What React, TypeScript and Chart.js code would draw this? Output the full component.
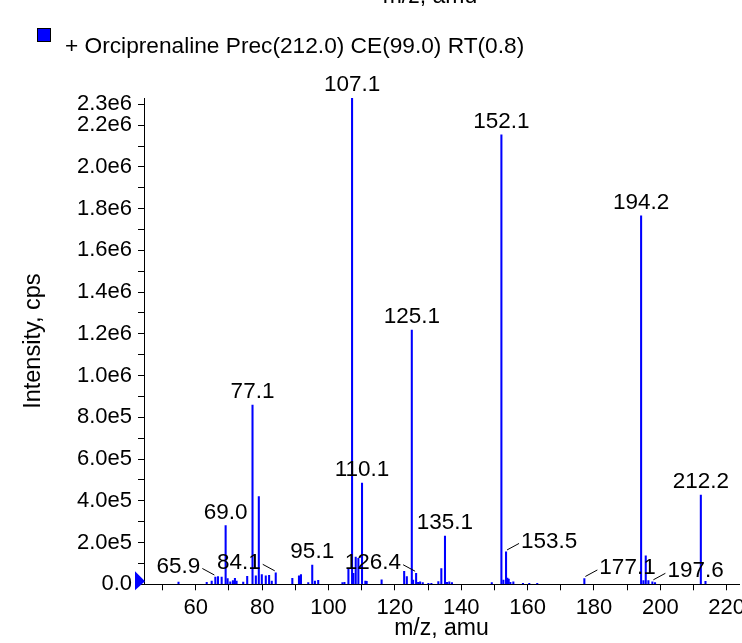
import React, { useEffect, useRef } from 'react';
import { Chart, registerables } from 'chart.js';

Chart.register(...registerables);

const FONT = '"Liberation Sans", Arial, Helvetica, sans-serif';

const seriesName = '+ Orciprenaline Prec(212.0) CE(99.0) RT(0.8)';
const xTitle = 'm/z, amu';
const yTitle = 'Intensity, cps';

const mzValues = [
  54.8, 63.3, 64.8, 65.9, 66.7, 67.8, 69.0, 69.6, 70.4, 71.2, 71.8, 72.3, 74.3, 75.5,
  77.1, 78.1, 79.0, 79.9, 81.1, 82.1, 82.9, 84.1, 89.1, 91.1, 91.7, 93.9, 95.1, 95.9,
  96.9, 104.2, 104.8, 106.0, 107.1, 107.5, 108.2, 109.0, 110.1, 111.1, 111.5, 116.0,
  122.8, 123.6, 125.1, 125.5, 126.4, 127.0, 127.6, 128.4, 130.1, 131.0, 133.1, 134.0,
  135.1, 135.7, 136.4, 137.2, 149.2, 152.1, 152.7, 153.5, 153.9, 154.3, 154.8, 155.7,
  158.6, 160.5, 162.9, 177.1, 194.2, 194.9, 195.6, 196.4, 197.6, 198.4, 212.2, 213.6,
];

const intensities = [
  11000, 10000, 16000, 35000, 37000, 35000, 281000, 28000, 12000, 18000, 29000, 16000, 11000, 38000,
  859000, 40000, 420000, 46000, 40000, 43000, 15000, 55000, 29000, 40000, 46000, 8000, 92000, 16000,
  19000, 8000, 10000, 74000, 2330000, 52000, 130000, 125000, 485000, 15000, 14000, 22000,
  62000, 37000, 1218000, 20000, 53000, 10000, 12000, 8000, 5000, 5000, 13000, 75000,
  231000, 10000, 12000, 8000, 8000, 2153000, 20000, 155000, 30000, 25000, 10000, 12000,
  5000, 5000, 5000, 28000, 1765000, 18000, 137000, 18000, 12000, 8000, 428000, 14000,
];

// peaks labelled directly above the peak
const topLabels = ['69.0', '77.1', '95.1', '107.1', '110.1', '125.1', '135.1', '152.1', '194.2', '212.2'];
// peaks labelled with a leader line
const leaderLabels = ['65.9', '84.1', '126.4', '153.5', '177.1', '197.6'];

const xTickValues = [50, 60, 70, 80, 90, 100, 110, 120, 130, 140, 150, 160, 170, 180, 190, 200, 210, 220];
const yTickValues = [
  0, 100000, 200000, 300000, 400000, 500000, 600000, 700000, 800000, 900000, 1000000, 1100000,
  1200000, 1300000, 1400000, 1500000, 1600000, 1700000, 1800000, 1900000, 2000000, 2100000,
  2200000, 2300000,
];

// which side each leader label goes to (-1 left, +1 right)
const leaderSide: Record<string, number> = {
  '65.9': -1, '84.1': -1, '126.4': -1, '153.5': 1, '177.1': 1, '197.6': 1,
};

function fmtY(v: number): string {
  if (v === 0) return '0.0';
  const e = Math.floor(Math.log10(v) + 1e-9);
  const m = v / Math.pow(10, e);
  return m.toFixed(1) + 'e' + e;
}

const annotPlugin = {
  id: 'annot',
  afterDraw(chart: any) {
    const ctx = chart.ctx as CanvasRenderingContext2D;
    const xs = chart.scales.x;
    const ys = chart.scales.y;
    ctx.save();
    ctx.fillStyle = '#000';
    ctx.strokeStyle = '#000';
    ctx.lineWidth = 1;
    ctx.font = `22.5px ${FONT}`;
    ctx.textBaseline = 'middle';

    const find = (lab: string) => {
      const v = parseFloat(lab);
      const i = mzValues.findIndex((m) => Math.abs(m - v) < 1e-6);
      return { px: xs.getPixelForValue(mzValues[i]), py: ys.getPixelForValue(intensities[i]) };
    };

    topLabels.forEach((lab) => {
      const { px, py } = find(lab);
      ctx.textAlign = 'center';
      ctx.fillText(lab, px, py - 13);
    });

    leaderLabels.forEach((lab) => {
      const { px, py } = find(lab);
      const s = leaderSide[lab];
      ctx.beginPath();
      ctx.moveTo(px + s * 1, py - 2);
      ctx.lineTo(px + s * 13, py - 8.5);
      ctx.stroke();
      ctx.textAlign = s < 0 ? 'right' : 'left';
      ctx.fillText(lab, px + s * 15, py - 10.5);
    });

    // marker triangle at zero on the y axis
    const y0 = ys.getPixelForValue(0);
    const ax = xs.left;
    ctx.fillStyle = '#0000ff';
    ctx.beginPath();
    ctx.moveTo(ax - 9, y0 - 13);
    ctx.lineTo(ax + 1, y0 - 3);
    ctx.lineTo(ax - 9, y0 + 6);
    ctx.closePath();
    ctx.fill();

    // legend
    ctx.fillStyle = '#0000ff';
    ctx.fillRect(37, 28, 13, 13);
    ctx.strokeStyle = '#000';
    ctx.strokeRect(37.5, 28.5, 13, 13);
    ctx.fillStyle = '#000';
    ctx.textAlign = 'left';
    ctx.font = `22.7px ${FONT}`;
    ctx.fillText(seriesName, 65, 47);

    // cut-off title at very top
    ctx.textAlign = 'center';
    ctx.textBaseline = 'alphabetic';
    ctx.font = `23px ${FONT}`;
    ctx.fillText(xTitle, 430, 3);
    ctx.restore();
  },
};

export default function App() {
  const ref = useRef<HTMLCanvasElement | null>(null);
  useEffect(() => {
    if (!ref.current) return;
    const chart = new Chart(ref.current, {
      type: 'bar',
      data: {
        datasets: [
          {
            data: mzValues.map((x, i) => ({ x, y: intensities[i] })) as any,
            backgroundColor: '#0000ff',
            borderWidth: 0,
            barThickness: 1.4,
          },
        ],
      },
      options: {
        responsive: false,
        maintainAspectRatio: false,
        animation: false,
        devicePixelRatio: 1,
        layout: { padding: { left: 0, top: 98, right: 61, bottom: 0 } },
        plugins: { legend: { display: false }, tooltip: { enabled: false }, title: { display: false } },
        scales: {
          x: {
            type: 'linear',
            min: 44.4,
            max: 223.7,
            offset: false,
            afterBuildTicks: (s: any) => {
              s.ticks = xTickValues.map((v) => ({ value: v }));
            },
            afterFit: (s: any) => {
              s.height = 58.7;
            },
            grid: { offset: false, drawOnChartArea: false, drawTicks: true, tickLength: 6, color: '#000', lineWidth: 1 },
            border: { display: true, color: '#000', width: 1 },
            ticks: {
              autoSkip: false,
              maxRotation: 0,
              minRotation: 0,
              padding: 4,
              color: '#000',
              font: { size: 22, family: FONT },
              callback: (v: any) => (Number(v) % 20 === 0 ? String(v) : ''),
            },
            title: { display: true, text: xTitle, color: '#000', font: { size: 23, family: FONT }, padding: { top: 0, bottom: 1 } },
          },
          y: {
            type: 'linear',
            min: 0,
            max: 2330000,
            afterBuildTicks: (s: any) => {
              s.ticks = yTickValues.map((v) => ({ value: v }));
            },
            afterFit: (s: any) => {
              s.width = 144;
            },
            grid: { offset: false, drawOnChartArea: false, drawTicks: true, tickLength: 6, color: '#000', lineWidth: 1 },
            border: { display: true, color: '#000', width: 1 },
            ticks: {
              autoSkip: false,
              padding: 6,
              color: '#000',
              font: { size: 22, family: FONT },
              callback: (v: any, i: number) =>
                i % 2 === 0 || i === yTickValues.length - 1 ? fmtY(Number(v)) : '',
            },
            title: { display: true, text: yTitle, color: '#000', font: { size: 23.5, family: FONT }, padding: { top: 19, bottom: 0 } },
          },
        },
      },
      plugins: [annotPlugin],
    } as any);
    return () => chart.destroy();
  }, []);

  return (
    <div style={{ position: 'absolute', left: 0, top: 0, width: 742, height: 643, overflow: 'hidden', background: '#fff' }}>
      <canvas ref={ref} width={800} height={643} style={{ display: 'block' }} />
    </div>
  );
}
